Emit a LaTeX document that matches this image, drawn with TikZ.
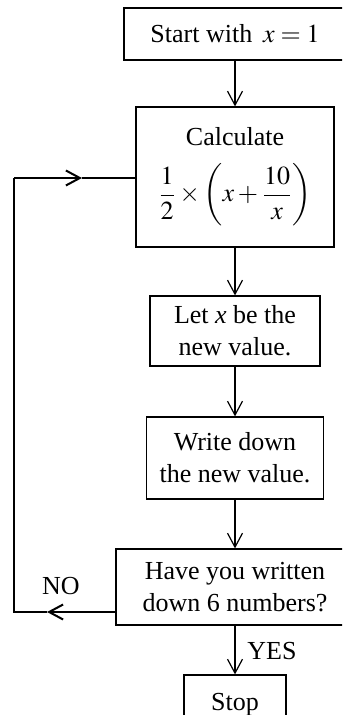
\documentclass[tikz,border=0pt]{standalone}
\usepackage{mathptmx}
\usepackage{fontspec}
\setmainfont{Liberation Serif}
\usetikzlibrary{arrows.meta}

\begin{document}
\begin{tikzpicture}[
    x = 0.5pt, y = -0.5pt,
    >={Straight Barb[length=7pt, width=7.5pt]},
    every node/.style = {font=\fontsize{13}{16}\selectfont},
    box/.style = {draw, line width=0.6pt, align=center, inner sep=0pt},
    flow/.style = {->, line width=0.6pt},
    back/.style = {->, line width=1pt}]

\useasboundingbox (0,0) rectangle (342,715);
\clip (0,0) rectangle (342,715);

% The boxes
\node[box, minimum width=111pt, minimum height=26pt] (start) at (235,34) {Start with\, $x = 1$};
\node[box, minimum width=99pt, minimum height=70pt] (calc) at (235,177)
    {Calculate\\[8pt] $\displaystyle \frac{1}{2}\times\left(x+\frac{10}{x}\right)$};
\node[box, minimum width=85pt, minimum height=35pt] (let) at (235,331) {Let \textit{x} be the\\new value.};
\node[box, minimum width=88.5pt, minimum height=41pt] (write) at (235,458) {Write down\\the new value.};
\node[box, minimum width=119pt, minimum height=38pt] (have) at (235,587) {Have you written\\down 6 numbers?};
\node[box, minimum width=51pt, minimum height=30pt] (stop) at (235,705) {Stop};

\draw[flow] (start.south) -- (calc.north);
\draw[flow] (calc.south) -- (let.north);
\draw[flow] (let.south) -- (write.north);
\draw[flow] (write.south) -- (have.north);
\draw[flow] (have.south) -- (stop.north);

% The loop back
\coordinate (nocorner) at (14,612);
\coordinate (noarrow) at (47,612);
\coordinate (backcorner) at (14,178);
\coordinate (backarrow) at (82,178);

\draw[back] (have.west |- noarrow) -- (noarrow);
\draw[line width=0.6pt] (noarrow) -- (nocorner) -- (backcorner);
\draw[back] (backcorner) -- (backarrow);
\draw[line width=0.6pt] (backarrow) -- (calc.west |- backarrow);

\node (no) at (61,586) {NO};
\node (yes) at (272,651) {YES};

\end{tikzpicture}
\end{document}
